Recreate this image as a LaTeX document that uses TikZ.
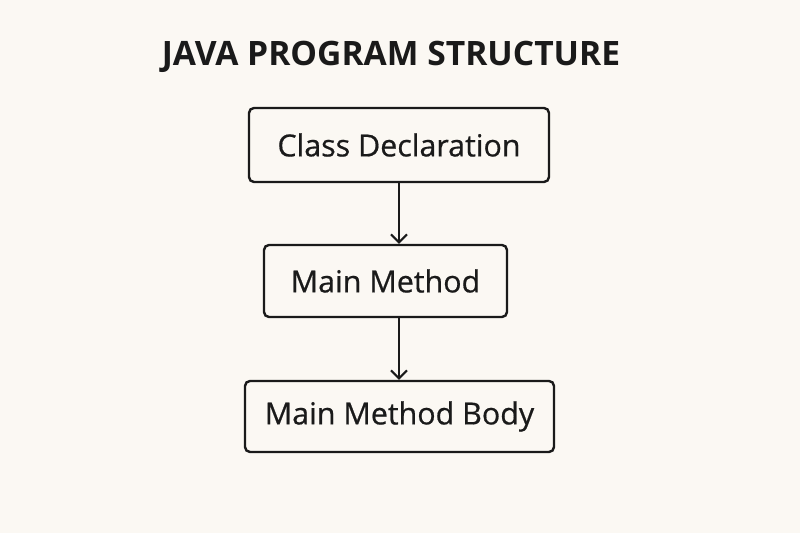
\documentclass[tikz,border=0pt]{standalone}
\usepackage{fontspec}
\setmainfont{Open Sans}
\newfontfamily\boxfont[FakeBold=0.6]{Open Sans}
\usetikzlibrary{positioning,arrows.meta}
\definecolor{paper}{HTML}{FBF8F3}
\definecolor{ink}{HTML}{1A1A1A}
\tikzset{
  stagebox/.style={draw=ink, line width=1.2pt, rounded corners=2.5pt, fill=paper,
    font=\boxfont\fontsize{15.2}{18}\selectfont, text=ink},
  flowarrow/.style={draw=ink, line width=1pt, -{Straight Barb[length=4pt,width=8pt]}}
}
\begin{document}
\begin{tikzpicture}[x=0.5pt,y=-0.5pt]

    \fill[paper] (0,0) rectangle (800,533);
    \useasboundingbox (0,0) rectangle (800,533);

    \node[font=\fontsize{16.8}{20}\selectfont\bfseries, text=ink] (title) at (391,57) {JAVA PROGRAM STRUCTURE};

    \node[stagebox, minimum width=150pt, minimum height=37pt] (classdecl) at (399,145) {Class Declaration};
    \node[stagebox, minimum width=121.5pt, minimum height=36pt] (mainmethod) at (385.5,281) {Main Method};
    \node[stagebox, minimum width=154.5pt, minimum height=35.5pt] (methodbody) at (399.5,416.5) {Main Method Body};

    \draw[flowarrow] (classdecl.south) -- (classdecl.south |- mainmethod.north);
    \draw[flowarrow] (classdecl.south |- mainmethod.south) -- (classdecl.south |- methodbody.north);

\end{tikzpicture}
\end{document}
